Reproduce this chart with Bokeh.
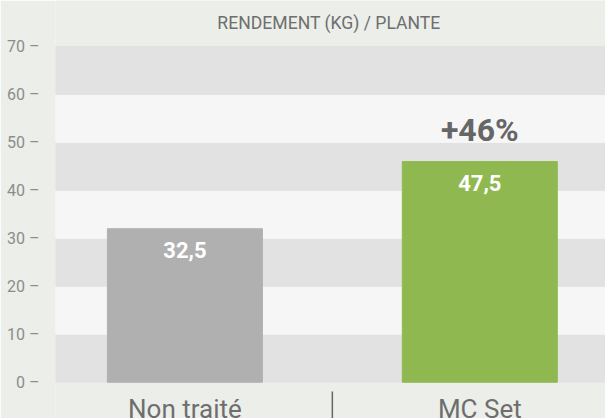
from bokeh.plotting import figure
from bokeh.models import FixedTicker, ColumnDataSource, Range1d
from bokeh.core.properties import value
from bokeh.embed import file_html
from bokeh.resources import INLINE

# ---- data ----
categories = ["Non traité", "MC Set"]
bar_values = [32, 46]              # bar heights as drawn
value_labels = ["32,5", "47,5"]    # printed values
bar_colors = ["#b0b0b0", "#8fb950"]
gain_label = "+46%"
y_ticks = [0, 10, 20, 30, 40, 50, 60, 70]
title_text = "RENDEMENT (KG) / PLANTE"

FONT = "Roboto"
BG = "#eceee9"
BAND_DARK = "#e2e2e2"
BAND_LIGHT = "#f6f6f6"

# y scale: 0 -> 381.7 px, 70 -> 46 px on a 418 px tall frame
Y0, Y1 = -7.57, 79.59
X0, X1 = -0.4388, 1.4263

xs = list(range(len(categories)))
src = ColumnDataSource(dict(x=xs, top=bar_values, lab=value_labels, color=bar_colors))

p = figure(width=605, height=418, output_backend="svg", toolbar_location=None,
           x_range=Range1d(X0, X1), y_range=Range1d(Y0, Y1),
           min_border_left=55, min_border_right=0, min_border_top=0, min_border_bottom=0)
p.background_fill_color = BG
p.border_fill_color = BG
p.outline_line_color = None
p.xgrid.grid_line_color = None
p.ygrid.grid_line_color = None
p.xaxis.visible = False

# alternating horizontal bands between the ticks
band_y = [(a + b) / 2 for a, b in zip(y_ticks[:-1], y_ticks[1:])]
band_h = [b - a for a, b in zip(y_ticks[:-1], y_ticks[1:])]
band_c = [BAND_DARK if i % 2 == 0 else BAND_LIGHT for i in range(len(band_y))]
p.hbar(y=band_y, height=band_h, left=X0, right=X1, color=band_c)

# bars
p.vbar(x="x", top="top", width=0.5256, color="color", source=src)

# value labels inside bars
p.text(x="x", y="top", text="lab", source=src, text_color="white",
       text_font=value(FONT), text_font_style="bold", text_font_size="22px",
       text_align="center", text_baseline="top", y_offset=13)

# gain label above the second bar
p.text(x=[xs[1]], y=[bar_values[1]], text=[gain_label], text_color="#666666",
       text_font=value(FONT), text_font_style="bold", text_font_size="32px",
       text_align="center", text_baseline="top", y_offset=-51)

# category labels under the bars
p.text(x=xs, y=[0] * len(xs), text=categories, text_color="#6e6e6e",
       text_font=value(FONT), text_font_size="26px",
       text_align="center", text_baseline="top", y_offset=12)

# divider between the two categories
p.segment(x0=[0.5], y0=[-1.94], x1=[0.5], y1=[Y0], line_color="#666666", line_width=1.5)

# title
p.text(x=[(X0 + X1) / 2 - 0.005], y=[y_ticks[-1]], text=[title_text], text_color="#6e6e6e",
       text_font=value(FONT), text_font_size="17.6px",
       text_align="center", text_baseline="top", y_offset=-33)

# y axis
ya = p.yaxis[0]
ya.ticker = FixedTicker(ticks=y_ticks)
ya.major_label_overrides = {t: f"{t} \u2013" for t in y_ticks}
ya.axis_line_color = None
ya.major_tick_line_color = None
ya.minor_tick_line_color = None
ya.major_label_standoff = 10
ya.major_label_text_font = FONT
ya.major_label_text_font_size = "16px"
ya.major_label_text_color = "#8c8c8c"

open("out.html", "w").write(file_html(p, INLINE))
